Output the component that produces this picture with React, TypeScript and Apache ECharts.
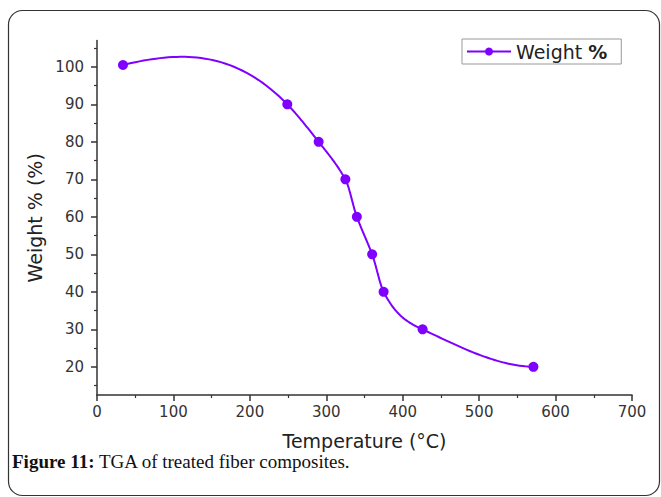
import React, { useEffect, useRef } from "react";
import * as echarts from "echarts";

const temperatures = [34, 249, 290, 325, 340, 360, 375, 426, 571];
const weights = [100.5, 90, 80, 70, 60, 50, 40, 30, 20];
const xMajorTicks = [0, 100, 200, 300, 400, 500, 600, 700];
const yLabelTicks = [20, 30, 40, 50, 60, 70, 80, 90, 100];
const yMinorTicks = [15, 25, 35, 45, 55, 65, 75, 85, 95, 105];
const seriesName = "Weight %";

const LINE_COLOR = "#7f00ff";
const AXIS_COLOR = "#333";
const SANS = "DejaVu Sans";
const SERIF = "Liberation Serif";

// Akima spline connector through the data points (drawing of the smooth line)
function akimaCurve(xs: number[], ys: number[], steps: number) {
  const n = xs.length;
  const m: number[] = new Array(n + 3).fill(0);
  for (let k = 0; k < n - 1; k++) m[k + 2] = (ys[k + 1] - ys[k]) / (xs[k + 1] - xs[k]);
  m[1] = 2 * m[2] - m[3];
  m[0] = 2 * m[1] - m[2];
  m[n + 1] = 2 * m[n] - m[n - 1];
  m[n + 2] = 2 * m[n + 1] - m[n];
  const t: number[] = [];
  for (let i = 0; i < n; i++) {
    const w1 = Math.abs(m[i + 3] - m[i + 2]);
    const w2 = Math.abs(m[i + 1] - m[i]);
    t.push(w1 + w2 < 1e-12 ? (m[i + 1] + m[i + 2]) / 2 : (w1 * m[i + 1] + w2 * m[i + 2]) / (w1 + w2));
  }
  const out: number[][] = [];
  for (let i = 0; i < n - 1; i++) {
    const h = xs[i + 1] - xs[i];
    for (let s = 0; s <= steps; s++) {
      if (i > 0 && s === 0) continue;
      const u = s / steps;
      const h00 = 2 * u * u * u - 3 * u * u + 1;
      const h10 = u * u * u - 2 * u * u + u;
      const h01 = -2 * u * u * u + 3 * u * u;
      const h11 = u * u * u - u * u;
      out.push([xs[i] + u * h, h00 * ys[i] + h10 * h * t[i] + h01 * ys[i + 1] + h11 * h * t[i + 1]]);
    }
  }
  return out;
}

export default function App() {
  const ref = useRef<HTMLDivElement>(null);
  useEffect(() => {
    if (!ref.current) return;
    const chart = echarts.init(ref.current, null, { renderer: "svg" });
    const points = temperatures.map((t, i) => [t, weights[i]]);
    const xAxisBase = {
      type: "value",
      min: 0,
      max: 700,
      interval: 100,
      splitLine: { show: false },
    };
    const yAxisBase = {
      type: "value",
      min: 12.5,
      max: 107,
      splitLine: { show: false },
    };
    chart.setOption({
      animation: false,
      backgroundColor: "#fff",
      grid: { left: 97, right: 29, top: 40.6, bottom: 102, containLabel: false },
      legend: {
        left: 462,
        top: 39,
        padding: [3, 14, 3, 4],
        borderColor: "#999",
        borderWidth: 1,
        itemWidth: 44,
        itemHeight: 10,
        itemGap: 8,
        data: [
          {
            name: seriesName,
            lineStyle: { color: LINE_COLOR, width: 2, opacity: 1 },
            itemStyle: { color: LINE_COLOR },
          },
        ],
        formatter: () => "{a|Weight }{b|%}",
        textStyle: {
          rich: {
            a: { fontFamily: SANS, fontSize: 19, color: "#222" },
            b: { fontFamily: SANS, fontSize: 19, fontWeight: "bold", color: "#222" },
          },
        },
      },
      xAxis: [
        {
          ...xAxisBase,
          name: "Temperature (°C)",
          nameLocation: "middle",
          nameGap: 36,
          nameTextStyle: { fontFamily: SANS, fontSize: 19, color: "#222" },
          axisLine: { show: true, lineStyle: { color: AXIS_COLOR, width: 1.5 } },
          axisTick: { show: true, length: 6, lineStyle: { color: AXIS_COLOR, width: 1.5 } },
          minorTick: { show: true, splitNumber: 2, length: 3, lineStyle: { color: AXIS_COLOR, width: 1.2 } },
          axisLabel: {
            margin: 9,
            fontFamily: SANS,
            fontSize: 15,
            color: AXIS_COLOR,
            customValues: xMajorTicks,
          },
        },
      ],
      yAxis: [
        {
          ...yAxisBase,
          name: "Weight % (%)",
          nameLocation: "middle",
          nameGap: 50,
          nameTextStyle: { fontFamily: SANS, fontSize: 19, color: "#222" },
          axisLine: { show: true, lineStyle: { color: AXIS_COLOR, width: 1.5 } },
          axisTick: {
            show: true,
            length: 6,
            customValues: yLabelTicks,
            lineStyle: { color: AXIS_COLOR, width: 1.5 },
          },
          axisLabel: {
            margin: 13,
            fontFamily: SANS,
            fontSize: 15,
            color: AXIS_COLOR,
            customValues: yLabelTicks,
          },
        },
        {
          ...yAxisBase,
          position: "left",
          axisLine: { show: false },
          axisLabel: { show: false },
          axisTick: {
            show: true,
            length: 3,
            customValues: yMinorTicks,
            lineStyle: { color: AXIS_COLOR, width: 1.2 },
          },
        },
      ],
      series: [
        {
          type: "custom",
          name: "curve",
          silent: true,
          z: 2,
          data: points,
          encode: { x: 0, y: 1 },
          renderItem: (params: any, api: any) => {
            if (params.dataIndex !== 0) return null;
            const pts = akimaCurve(temperatures, weights, 40).map((p) => api.coord(p));
            return {
              type: "polyline",
              shape: { points: pts },
              style: { stroke: LINE_COLOR, lineWidth: 2, fill: null },
            };
          },
        },
        {
          type: "line",
          name: seriesName,
          z: 3,
          data: points,
          symbol: "circle",
          symbolSize: 10,
          showSymbol: true,
          itemStyle: { color: LINE_COLOR },
          lineStyle: { opacity: 0, width: 0 },
        },
      ],
      graphic: [
        {
          type: "rect",
          silent: true,
          shape: { x: 8.5, y: 10.5, width: 651, height: 485, r: 14 },
          style: { fill: "none", stroke: "#333", lineWidth: 1.2 },
          z: -10,
        },
        {
          type: "text",
          x: 12,
          y: 461,
          style: {
            text: "{b|Figure 11:} TGA of treated fiber composites.",
            fontFamily: SERIF,
            fontSize: 19,
            fill: "#111",
            verticalAlign: "middle",
            rich: {
              b: { fontFamily: SERIF, fontSize: 19, fontWeight: "bold", fill: "#111" },
            },
          },
        },
      ],
    });
    return () => chart.dispose();
  }, []);
  return (
    <div
      ref={ref}
      style={{ position: "fixed", left: 0, top: 0, width: 661, height: 497 }}
    />
  );
}
